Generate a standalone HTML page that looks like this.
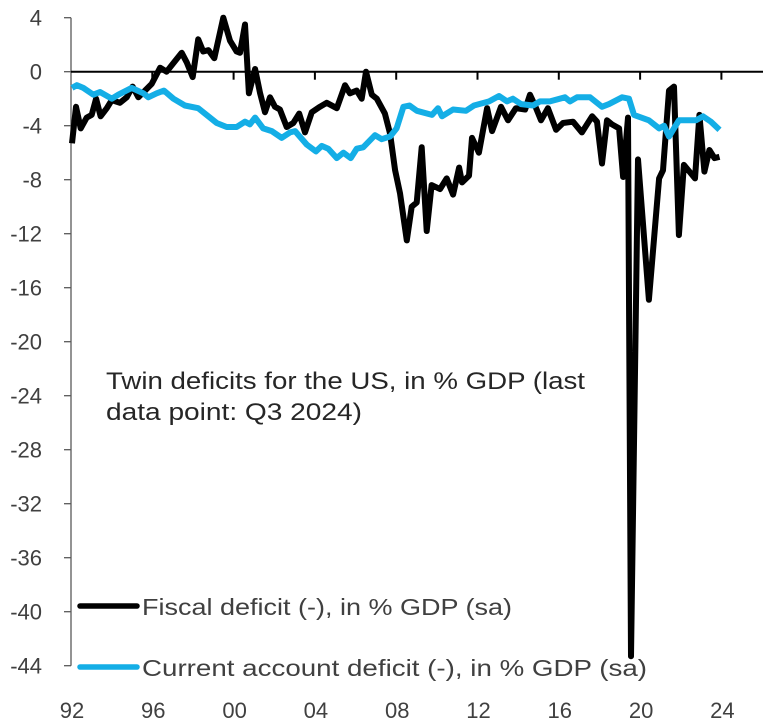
<!DOCTYPE html>
<html><head><meta charset="utf-8"><style>
html,body{margin:0;padding:0;background:#fff;}
svg{display:block;font-family:"Liberation Sans",sans-serif;}
</style></head><body>
<svg id="chart" width="772" height="726" viewBox="0 0 772 726" xmlns="http://www.w3.org/2000/svg">
<g id="axes"></g>
<g id="series"></g>
<text x="106" y="389" font-size="24" fill="#262626" textLength="479" lengthAdjust="spacingAndGlyphs">Twin deficits for the US, in % GDP (last</text>
<text x="106" y="420" font-size="24" fill="#262626" textLength="256" lengthAdjust="spacingAndGlyphs">data point: Q3 2024)</text>
<g>
<line x1="80" y1="606" x2="137" y2="606" stroke="#000" stroke-width="5.5" stroke-linecap="round"/>
<text x="142" y="615" font-size="23" fill="#404040" textLength="370" lengthAdjust="spacingAndGlyphs">Fiscal deficit (-), in % GDP (sa)</text>
<line x1="80" y1="667" x2="137" y2="667" stroke="#14aee6" stroke-width="5.5" stroke-linecap="round"/>
<text x="142" y="676" font-size="23" fill="#404040" textLength="505" lengthAdjust="spacingAndGlyphs">Current account deficit (-), in % GDP (sa)</text>
</g>
</svg>
<script>
const yTicks = [4,0,-4,-8,-12,-16,-20,-24,-28,-32,-36,-40,-44];
const xTickYears = [1992,1996,2000,2004,2008,2012,2016,2020,2024];
const xTickLabels = ["92","96","00","04","08","12","16","20","24"];
const fiscalT = [1992.0,1992.2,1992.44,1992.74,1992.99,1993.21,1993.44,1993.75,1994.0,1994.41,1994.75,1995.05,1995.34,1995.67,1996.01,1996.43,1996.76,1997.08,1997.52,1997.77,1998.07,1998.35,1998.6,1998.86,1999.16,1999.61,1999.95,2000.28,2000.45,2000.7,2000.9,2001.21,2001.46,2001.71,2001.96,2002.21,2002.46,2002.8,2003.13,2003.43,2003.72,2004.06,2004.47,2004.81,2005.32,2005.73,2005.98,2006.32,2006.57,2006.79,2007.08,2007.33,2007.74,2008.0,2008.25,2008.5,2008.84,2009.09,2009.34,2009.59,2009.84,2010.09,2010.51,2010.85,2011.17,2011.47,2011.62,2011.97,2012.12,2012.47,2012.88,2013.13,2013.58,2013.93,2014.33,2014.79,2015.04,2015.29,2015.59,2015.94,2016.35,2016.7,2017.2,2017.65,2018.16,2018.41,2018.66,2018.91,2019.16,2019.52,2019.72,2019.97,2020.12,2020.47,2021.02,2021.53,2021.73,2022.03,2022.28,2022.53,2022.78,2023.34,2023.56,2023.81,2024.06,2024.32,2024.57];
const fiscalV = [-5.3,-2.6,-4.2,-3.4,-3.2,-2.0,-3.3,-2.7,-2.1,-2.3,-1.9,-1.1,-1.9,-1.4,-0.9,0.3,0.0,0.6,1.4,0.7,-0.4,2.4,1.5,1.6,1.0,4.0,2.3,1.5,1.4,3.5,-1.6,0.2,-1.6,-3.0,-1.9,-2.6,-2.8,-4.1,-3.8,-3.1,-4.5,-3.0,-2.6,-2.3,-2.7,-1.0,-1.6,-1.4,-2.0,0.0,-1.7,-2.0,-3.1,-4.6,-7.3,-9.0,-12.5,-10.0,-9.7,-5.6,-11.8,-8.4,-8.7,-7.9,-9.1,-7.1,-8.2,-7.7,-4.9,-6.0,-2.7,-4.4,-2.6,-3.6,-2.7,-2.8,-1.7,-2.5,-3.6,-2.7,-4.3,-3.8,-3.7,-4.5,-3.3,-3.7,-6.8,-3.6,-3.9,-4.2,-7.8,-3.4,-43.3,-6.5,-16.9,-7.9,-7.3,-1.4,-1.1,-12.1,-6.9,-7.9,-3.2,-7.4,-5.8,-6.4,-6.3];
const caT = [1992.0,1992.24,1992.57,1993.07,1993.41,1994.0,1994.33,1995.0,1995.59,1995.84,1996.26,1996.63,1997.1,1997.68,1998.35,1999.28,1999.78,2000.28,2000.7,2000.95,2001.21,2001.62,2002.05,2002.55,2002.97,2003.22,2003.81,2004.27,2004.56,2004.89,2005.32,2005.65,2006.02,2006.32,2006.65,2007.24,2007.58,2008.0,2008.33,2008.67,2008.97,2009.35,2010.11,2010.41,2010.61,2011.17,2011.82,2012.22,2012.98,2013.48,2013.88,2014.18,2014.59,2015.19,2015.54,2016.04,2016.8,2017.05,2017.4,2018.06,2018.66,2019.01,2019.67,2020.02,2020.27,2021.02,2021.53,2021.78,2022.03,2022.53,2023.39,2023.74,2024.14,2024.57];
const caV = [-1.2,-1.0,-1.2,-1.7,-1.5,-2.0,-1.7,-1.2,-1.6,-1.9,-1.6,-1.4,-2.0,-2.5,-2.7,-3.8,-4.1,-4.1,-3.7,-3.9,-3.4,-4.2,-4.4,-4.9,-4.5,-4.4,-5.4,-5.9,-5.5,-5.7,-6.4,-6.0,-6.4,-5.7,-5.6,-4.7,-5.0,-4.8,-4.2,-2.6,-2.5,-2.9,-3.2,-2.7,-3.3,-2.8,-2.9,-2.5,-2.2,-1.8,-2.2,-2.0,-2.4,-2.5,-2.2,-2.2,-1.9,-2.2,-1.9,-1.9,-2.6,-2.4,-1.9,-2.0,-3.2,-3.6,-4.2,-4.0,-4.8,-3.6,-3.6,-3.3,-3.7,-4.3];

const NS = "http://www.w3.org/2000/svg";
function yScale(v){ return 71.7 - v * 13.5; }
function xData(t){ return 72 + (t - 1992) * 19.88; }
function xTick(t){ return 71 + (t - 1992) / 4 * 81.3; }

const axes = document.getElementById('axes');
function mk(tag, attrs, parent){ const e=document.createElementNS(NS,tag); for(const k in attrs) e.setAttribute(k,attrs[k]); parent.appendChild(e); return e; }

const yAxis = mk('line',{x1:71,y1:yScale(4),x2:71,y2:yScale(-44),stroke:'#595959','stroke-width':1.3},axes);


yTicks.forEach(v=>{
  const tk = mk('line',{x1:64,y1:yScale(v),x2:71,y2:yScale(v),stroke:'#595959','stroke-width':1.3},axes);
  
  
  const lb = mk('text',{x:42,y:yScale(v)+8,'text-anchor':'end','font-size':22,fill:'#404040'},axes);
  lb.textContent = String(v);
  
  
});
const zero = mk('line',{x1:71,y1:yScale(0),x2:763,y2:yScale(0),stroke:'#000','stroke-width':2},axes);


xTickYears.forEach((yr,i)=>{
  const x = xTick(yr);
  if(i>0){
    const tk = mk('line',{x1:x,y1:yScale(0),x2:x,y2:yScale(0)+8,stroke:'#000','stroke-width':2},axes);
    
    
  }
  const lb = mk('text',{x:x+1,y:718,'text-anchor':'middle','font-size':22,fill:'#404040'},axes);
  lb.textContent = xTickLabels[i];
  
  
});

const series = document.getElementById('series');
function path(ts, vs){ return ts.map((t,i)=>(i?'L':'M')+xData(t).toFixed(1)+' '+yScale(vs[i]).toFixed(1)).join(' '); }
const fl = mk('path',{d:path(fiscalT,fiscalV),fill:'none',stroke:'#000','stroke-width':6,'stroke-linejoin':'round'},series);


const cl = mk('path',{d:path(caT,caV),fill:'none',stroke:'#14aee6','stroke-width':6,'stroke-linejoin':'round'},series);


</script>
</body></html>
